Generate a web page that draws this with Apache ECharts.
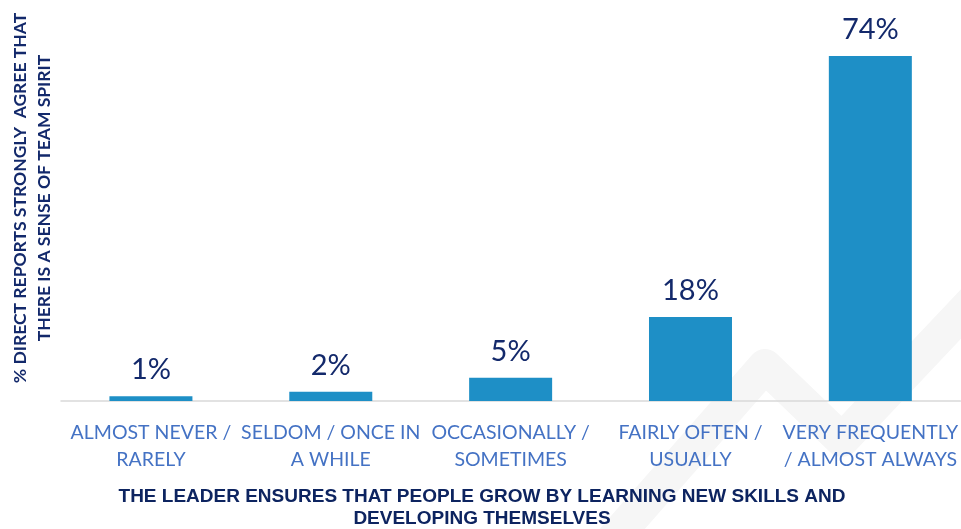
<!DOCTYPE html>
<html>
<head>
<meta charset="utf-8">
<script src="https://cdn.jsdelivr.net/npm/echarts@6/dist/echarts.min.js"></script>
<style>
  html, body { margin: 0; padding: 0; background: #fff; }
  #chart { width: 961px; height: 529px; }
</style>
</head>
<body>
<div id="chart"></div>
<script>
// data
const categories = [
  "ALMOST NEVER /\nRARELY",
  "SELDOM / ONCE IN\nA WHILE",
  "OCCASIONALLY /\nSOMETIMES",
  "FAIRLY OFTEN /\nUSUALLY",
  "VERY FREQUENTLY\n/ ALMOST ALWAYS"
];
const values = [1, 2, 5, 18, 74];
const xTitle = "THE LEADER ENSURES THAT PEOPLE GROW BY LEARNING NEW SKILLS AND\nDEVELOPING THEMSELVES";
const yTitle = "% DIRECT REPORTS STRONGLY  AGREE THAT\nTHERE IS A SENSE OF TEAM SPIRIT";

const chart = echarts.init(document.getElementById("chart"));

const option = {
  animation: false,
  grid: { left: 61, right: 0, top: 28, bottom: 128 },
  xAxis: {
    type: "category",
    data: categories,
    axisLine: { lineStyle: { color: "#d9d9d9", width: 1.5 } },
    axisTick: { show: false },
    axisLabel: {
      interval: 0,
      margin: 18,
      fontFamily: "Lato",
      fontSize: 19.5,
      lineHeight: 27,
      color: "#4472c4"
    }
  },
  yAxis: {
    type: "value",
    min: 0,
    max: 80,
    show: false
  },
  graphic: [
    {
      // faint background watermark
      type: "polyline",
      z: -10,
      silent: true,
      shape: { points: [[560, 600], [765, 366], [842, 440], [1010, 262]] },
      style: { stroke: "#f6f6f6", lineWidth: 34, fill: null, lineJoin: "round" }
    },
    {
      type: "text",
      x: 32,
      y: 198,
      rotation: Math.PI / 2,
      style: {
        text: yTitle,
        fontFamily: "Lato",
        fontWeight: "bold",
        fontSize: 17.5,
        lineHeight: 24,
        fill: "#13296b",
        align: "center",
        verticalAlign: "middle"
      }
    },
    {
      type: "text",
      x: 482,
      y: 508,
      style: {
        text: xTitle,
        fontFamily: "Liberation Sans",
        fontWeight: "bold",
        fontSize: 19,
        lineHeight: 22,
        fill: "#0d2460",
        align: "center",
        verticalAlign: "middle"
      }
    }
  ],
  series: [
    {
      type: "bar",
      data: values,
      barWidth: 83,
      itemStyle: { color: "#1e8fc6" },
      label: {
        show: true,
        position: "top",
        distance: 12,
        formatter: "{c}%",
        fontFamily: "Lato",
        fontSize: 29,
        color: "#13296b"
      }
    }
  ]
};

chart.setOption(option);
</script>
</body>
</html>
